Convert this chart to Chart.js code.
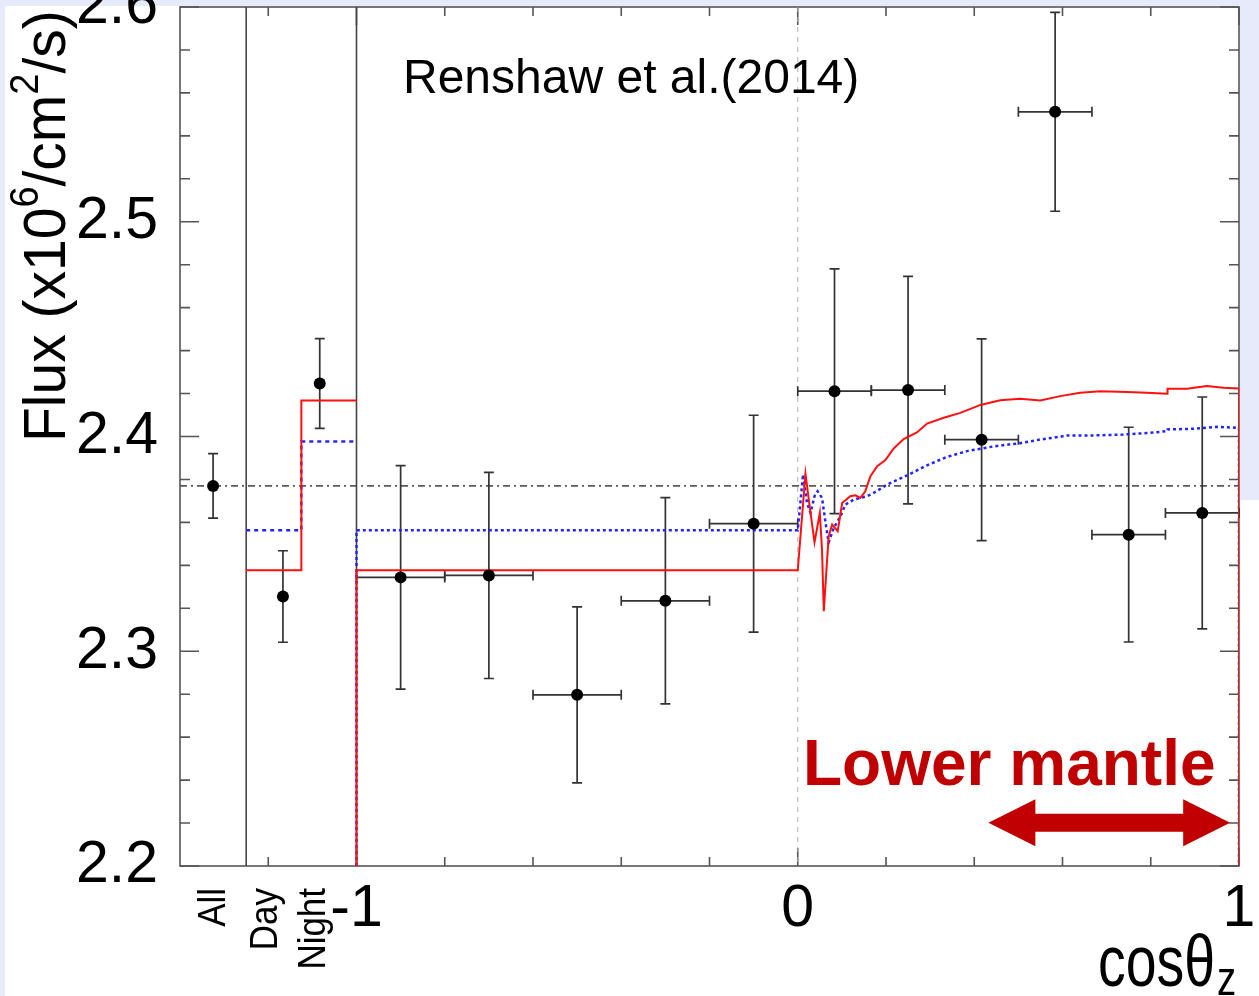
<!DOCTYPE html>
<html><head><meta charset="utf-8">
<script src="https://cdn.jsdelivr.net/npm/chart.js@4.4.1/dist/chart.umd.min.js"></script>
<style>
html,body{margin:0;padding:0;background:#e6eafa;overflow:hidden;}
#wrap{position:relative;width:1259px;height:996px;}
canvas{display:block;}
</style></head><body>
<div id="wrap"><canvas id="c" width="1259" height="996"></canvas></div>
<script>
// ---------------- data ----------------
const yTickLabels = [2.2, 2.3, 2.4, 2.5, 2.6];
const xTickLabels = [-1, 0, 1];

// summary points (All / Day / Night)
const summaryCategories = ['All', 'Day', 'Night'];
const summaryX = [-1.325, -1.1667, -1.0833];
const summaryFlux = [2.377, 2.3255, 2.4247];
const summaryErr = [0.015, 0.0213, 0.0209];

// zenith-angle bins (cos theta_z)
const binLow    = [-1.0, -0.8, -0.6, -0.4, -0.2, 0.0, 0.1667, 0.3333, 0.5, 0.6667, 0.8333];
const binHigh   = [-0.8, -0.6, -0.4, -0.2, 0.0, 0.1667, 0.3333, 0.5, 0.6667, 0.8333, 1.0];
const binCenter = [-0.9, -0.7, -0.5, -0.3, -0.1, 0.0833, 0.25, 0.4167, 0.5833, 0.75, 0.9167];
const binFlux   = [2.3344, 2.3353, 2.2797, 2.3235, 2.3594, 2.4211, 2.4216, 2.3985, 2.5512, 2.3543, 2.3644];
const binErr    = [0.052, 0.048, 0.041, 0.048, 0.0505, 0.057, 0.053, 0.047, 0.0463, 0.05, 0.054];

// day / night model steps
const dayNightEdges = [-1.25, -1.125, -1.0];
const redDayNight  = [2.3377, 2.4168];
const blueDayNight = [2.3563, 2.3977];

// zenith model curves (red solid, blue dotted)
const redCosX = [-1, -1, 0, 0.0175, 0.025, 0.038, 0.05, 0.055, 0.059, 0.070, 0.078, 0.0906, 0.1006, 0.119, 0.1307, 0.142, 0.153, 0.1647, 0.18, 0.1986, 0.2175, 0.24, 0.27, 0.293, 0.331, 0.3685, 0.414, 0.459, 0.504, 0.5497, 0.595, 0.64, 0.686, 0.746, 0.791, 0.837, 0.838, 0.882, 0.927, 0.965, 1.0, 1.0];
const redCosY = [2.2, 2.3377, 2.3377, 2.3827, 2.3706, 2.3507, 2.3644, 2.3473, 2.3186, 2.3535, 2.359, 2.3559, 2.369, 2.3722, 2.3726, 2.3714, 2.3745, 2.3815, 2.3862, 2.389, 2.3944, 2.3988, 2.4019, 2.406, 2.4087, 2.411, 2.4147, 2.4169, 2.4176, 2.4168, 2.4188, 2.4204, 2.4211, 2.4207, 2.4204, 2.4199, 2.4222, 2.4222, 2.4235, 2.4227, 2.4224, 2.2];
const blueCosX = [-1, -1, 0, 0.012, 0.021, 0.029, 0.038, 0.045, 0.055, 0.063, 0.070, 0.0815, 0.0967, 0.108, 0.127, 0.157, 0.172, 0.2025, 0.248, 0.293, 0.338, 0.3837, 0.444, 0.504, 0.5497, 0.595, 0.61, 0.67, 0.738, 0.799, 0.837, 0.838, 0.897, 0.95, 1.0, 1.0];
const blueCosY = [2.2, 2.3563, 2.3563, 2.3823, 2.369, 2.3644, 2.3722, 2.3745, 2.3714, 2.3598, 2.3507, 2.3574, 2.3628, 2.3683, 2.3706, 2.3722, 2.3737, 2.3776, 2.3819, 2.3866, 2.3905, 2.3932, 2.3954, 2.3969, 2.3986, 2.3999, 2.4005, 2.4005, 2.4009, 2.4017, 2.4025, 2.4033, 2.4036, 2.4045, 2.404, 2.2];

const regionSeparators = [-1.25, -1.0];
const annotationTitle = 'Renshaw et al.(2014)';
const mantleLabel = 'Lower mantle';
const mantleRange = [0.432, 0.98];

// ---------------- helpers ----------------
const zip = (xs, ys) => xs.map((x, i) => ({x, y: ys[i]}));
function steps(edges, levels) {
  const p = [];
  levels.forEach((v, i) => { p.push({x: edges[i], y: v}); p.push({x: edges[i + 1], y: v}); });
  return p;
}
const FONT = "'Liberation Sans', Arial, Helvetica, sans-serif";

function richText(c, parts, x, y, rot, sx) {
  c.save();
  c.translate(x, y);
  c.rotate(rot);
  c.scale(sx, 1);
  c.textBaseline = 'alphabetic';
  c.textAlign = 'left';
  let cx = 0;
  parts.forEach(p => {
    c.font = (p.bold ? 'bold ' : '') + p.size + 'px ' + FONT;
    c.fillText(p.t, cx, -(p.raise || 0));
    cx += c.measureText(p.t).width;
  });
  c.restore();
}

const deco = {
  id: 'deco',
  beforeDraw(chart) {
    const c = chart.ctx;
    c.save();
    c.fillStyle = '#e6eafa';
    c.fillRect(0, 0, chart.width, chart.height);
    c.fillStyle = '#ffffff';
    c.fillRect(5, 6, 1235, 990);
    c.fillRect(1240, 500, 19, 496);
    c.restore();
  },
  beforeDatasetsDraw(chart) {
    const c = chart.ctx, xs = chart.scales.x, ys = chart.scales.y, a = chart.chartArea;
    const X = v => xs.getPixelForValue(v), Y = v => ys.getPixelForValue(v);
    c.save();
    // frame
    c.strokeStyle = '#555'; c.lineWidth = 1.6;
    c.strokeRect(a.left, a.top, a.right - a.left, a.bottom - a.top);
    // y ticks (inward, both sides)
    for (let k = 0; k <= 20; k++) {
      const v = yTickLabels[0] + k * 0.02;
      const major = k % 5 === 0;
      const L = major ? 19 : 10, y = Y(v);
      c.beginPath();
      c.moveTo(a.left, y); c.lineTo(a.left + L, y);
      c.moveTo(a.right, y); c.lineTo(a.right - L, y);
      c.stroke();
    }
    // x ticks (inward, both sides)
    for (let k = 1; k <= 12; k++) {
      const v = -1.4 + k * 0.2;
      const major = Math.abs(v + 1) < 1e-6 || Math.abs(v) < 1e-6 || Math.abs(v - 1) < 1e-6;
      const L = major ? 18 : 9, x = X(v);
      c.beginPath();
      c.moveTo(x, a.bottom); c.lineTo(x, a.bottom - L);
      c.moveTo(x, a.top); c.lineTo(x, a.top + L);
      c.stroke();
    }
    // dashed vertical at cos = 0
    c.strokeStyle = '#b0b0b0'; c.lineWidth = 1; c.setLineDash([5, 5]);
    c.beginPath(); c.moveTo(X(0), a.top); c.lineTo(X(0), a.bottom); c.stroke();
    // dash-dot horizontal at "All" value
    c.strokeStyle = '#5a5a5a'; c.lineWidth = 1.7; c.setLineDash([7, 4, 2, 4]);
    c.beginPath(); c.moveTo(a.left, Y(summaryFlux[0])); c.lineTo(a.right, Y(summaryFlux[0])); c.stroke();
    c.setLineDash([]);
    // separators
    c.strokeStyle = '#444'; c.lineWidth = 1.6;
    regionSeparators.forEach(v => { c.beginPath(); c.moveTo(X(v), a.top); c.lineTo(X(v), a.bottom); c.stroke(); });
    // error bars
    c.strokeStyle = '#333'; c.lineWidth = 1.7;
    const cap = 5;
    const vbar = (x, lo, hi) => {
      c.beginPath();
      c.moveTo(X(x), Y(lo)); c.lineTo(X(x), Y(hi));
      c.moveTo(X(x) - cap, Y(lo)); c.lineTo(X(x) + cap, Y(lo));
      c.moveTo(X(x) - cap, Y(hi)); c.lineTo(X(x) + cap, Y(hi));
      c.stroke();
    };
    summaryX.forEach((x, i) => vbar(x, summaryFlux[i] - summaryErr[i], summaryFlux[i] + summaryErr[i]));
    binCenter.forEach((x, i) => {
      vbar(x, binFlux[i] - binErr[i], binFlux[i] + binErr[i]);
      const y = Y(binFlux[i]);
      c.beginPath();
      c.moveTo(X(binLow[i]), y); c.lineTo(X(binHigh[i]), y);
      c.moveTo(X(binLow[i]), y - cap); c.lineTo(X(binLow[i]), y + cap);
      c.moveTo(X(binHigh[i]), y - cap); c.lineTo(X(binHigh[i]), y + cap);
      c.stroke();
    });
    c.restore();
  },
  afterDatasetsDraw(chart) {
    const c = chart.ctx, xs = chart.scales.x;
    const X = v => xs.getPixelForValue(v);
    c.save();
    c.fillStyle = '#000';
    // annotation title
    c.font = '48px ' + FONT; c.textAlign = 'left'; c.textBaseline = 'alphabetic';
    c.fillText(annotationTitle, 403, 93);
    // All / Day / Night labels (rotated)
    const catPos = [[225, 888], [277, 888], [325, 888]];
    summaryCategories.forEach((t, i) => {
      c.save();
      c.translate(catPos[i][0], catPos[i][1]);
      c.rotate(-Math.PI / 2);
      c.scale(0.92, 1);
      c.font = '38px ' + FONT; c.textAlign = 'right'; c.textBaseline = 'alphabetic';
      c.fillText(t, 0, 0);
      c.restore();
    });
    // y title
    richText(c, [
      {t: 'Flux (x10', size: 60},
      {t: '6', size: 40, raise: 27},
      {t: '/cm', size: 60},
      {t: '2', size: 40, raise: 27},
      {t: '/s)', size: 60}
    ], 65, 442, -Math.PI / 2, 0.95);
    // x title
    richText(c, [{t: 'cos\u03b8', size: 72}], 1098, 986, 0, 0.77);
    richText(c, [{t: 'z', size: 48}], 1217, 995, 0, 0.8);
    // Lower mantle text + arrow
    c.fillStyle = '#c00000';
    c.font = 'bold 64px ' + FONT; c.textAlign = 'left'; c.textBaseline = 'alphabetic';
    c.fillText(mantleLabel, 803, 785);
    const x1 = X(mantleRange[0]), x2 = X(mantleRange[1]), yc = 822.7;
    const hl = 47, hh = 23.5, sh = 9;
    c.beginPath();
    c.moveTo(x1, yc);
    c.lineTo(x1 + hl, yc - hh);
    c.lineTo(x1 + hl, yc - sh);
    c.lineTo(x2 - hl, yc - sh);
    c.lineTo(x2 - hl, yc - hh);
    c.lineTo(x2, yc);
    c.lineTo(x2 - hl, yc + hh);
    c.lineTo(x2 - hl, yc + sh);
    c.lineTo(x1 + hl, yc + sh);
    c.lineTo(x1 + hl, yc + hh);
    c.closePath();
    c.fill();
    c.restore();
  }
};

Chart.defaults.font.family = FONT;

const points = summaryX.map((x, i) => ({x, y: summaryFlux[i]}))
  .concat(binCenter.map((x, i) => ({x, y: binFlux[i]})));

new Chart(document.getElementById('c'), {
  type: 'scatter',
  data: {
    datasets: [
      {label: 'data', data: points, pointRadius: 6, pointBackgroundColor: '#000', pointBorderWidth: 0, showLine: false},
      {label: 'red model', data: zip(redCosX, redCosY), showLine: true, borderColor: '#ff1010', borderWidth: 2, pointRadius: 0, tension: 0, fill: false},
      {label: 'blue model', data: zip(blueCosX, blueCosY), showLine: true, borderColor: '#2424ff', borderWidth: 2.5, borderDash: [3, 3], pointRadius: 0, tension: 0, fill: false},
      {label: 'red day/night', data: steps(dayNightEdges, redDayNight), showLine: true, borderColor: '#ff1010', borderWidth: 2, pointRadius: 0, tension: 0, fill: false},
      {label: 'blue day/night', data: steps(dayNightEdges, blueDayNight), showLine: true, borderColor: '#2424ff', borderWidth: 2.5, borderDash: [4, 4], pointRadius: 0, tension: 0, fill: false}
    ]
  },
  options: {
    responsive: false,
    animation: false,
    events: [],
    layout: {padding: {left: 0, right: 20, top: 7, bottom: 0}},
    plugins: {legend: {display: false}, tooltip: {enabled: false}},
    scales: {
      x: {
        type: 'linear', position: 'bottom', min: -1.4, max: 1,
        afterBuildTicks: s => { s.ticks = xTickLabels.map(v => ({value: v})); },
        ticks: {font: {size: 59}, color: '#000', padding: 8, maxRotation: 0, autoSkip: false,
                callback: v => String(v)},
        grid: {display: false, drawTicks: false},
        border: {display: false},
        afterFit: s => { s.height = 130; s.paddingLeft = 0; s.paddingRight = 0; }
      },
      y: {
        type: 'linear', position: 'left', min: 2.2, max: 2.6,
        afterBuildTicks: s => { s.ticks = yTickLabels.map(v => ({value: v})); },
        ticks: {font: {size: 59}, color: '#000', padding: 22, autoSkip: false,
                callback: v => Number(v).toFixed(1)},
        grid: {display: false, drawTicks: false},
        border: {display: false},
        afterFit: s => { s.width = 180; s.paddingTop = 0; s.paddingBottom = 0; }
      }
    }
  },
  plugins: [deco]
});
</script>
</body></html>
